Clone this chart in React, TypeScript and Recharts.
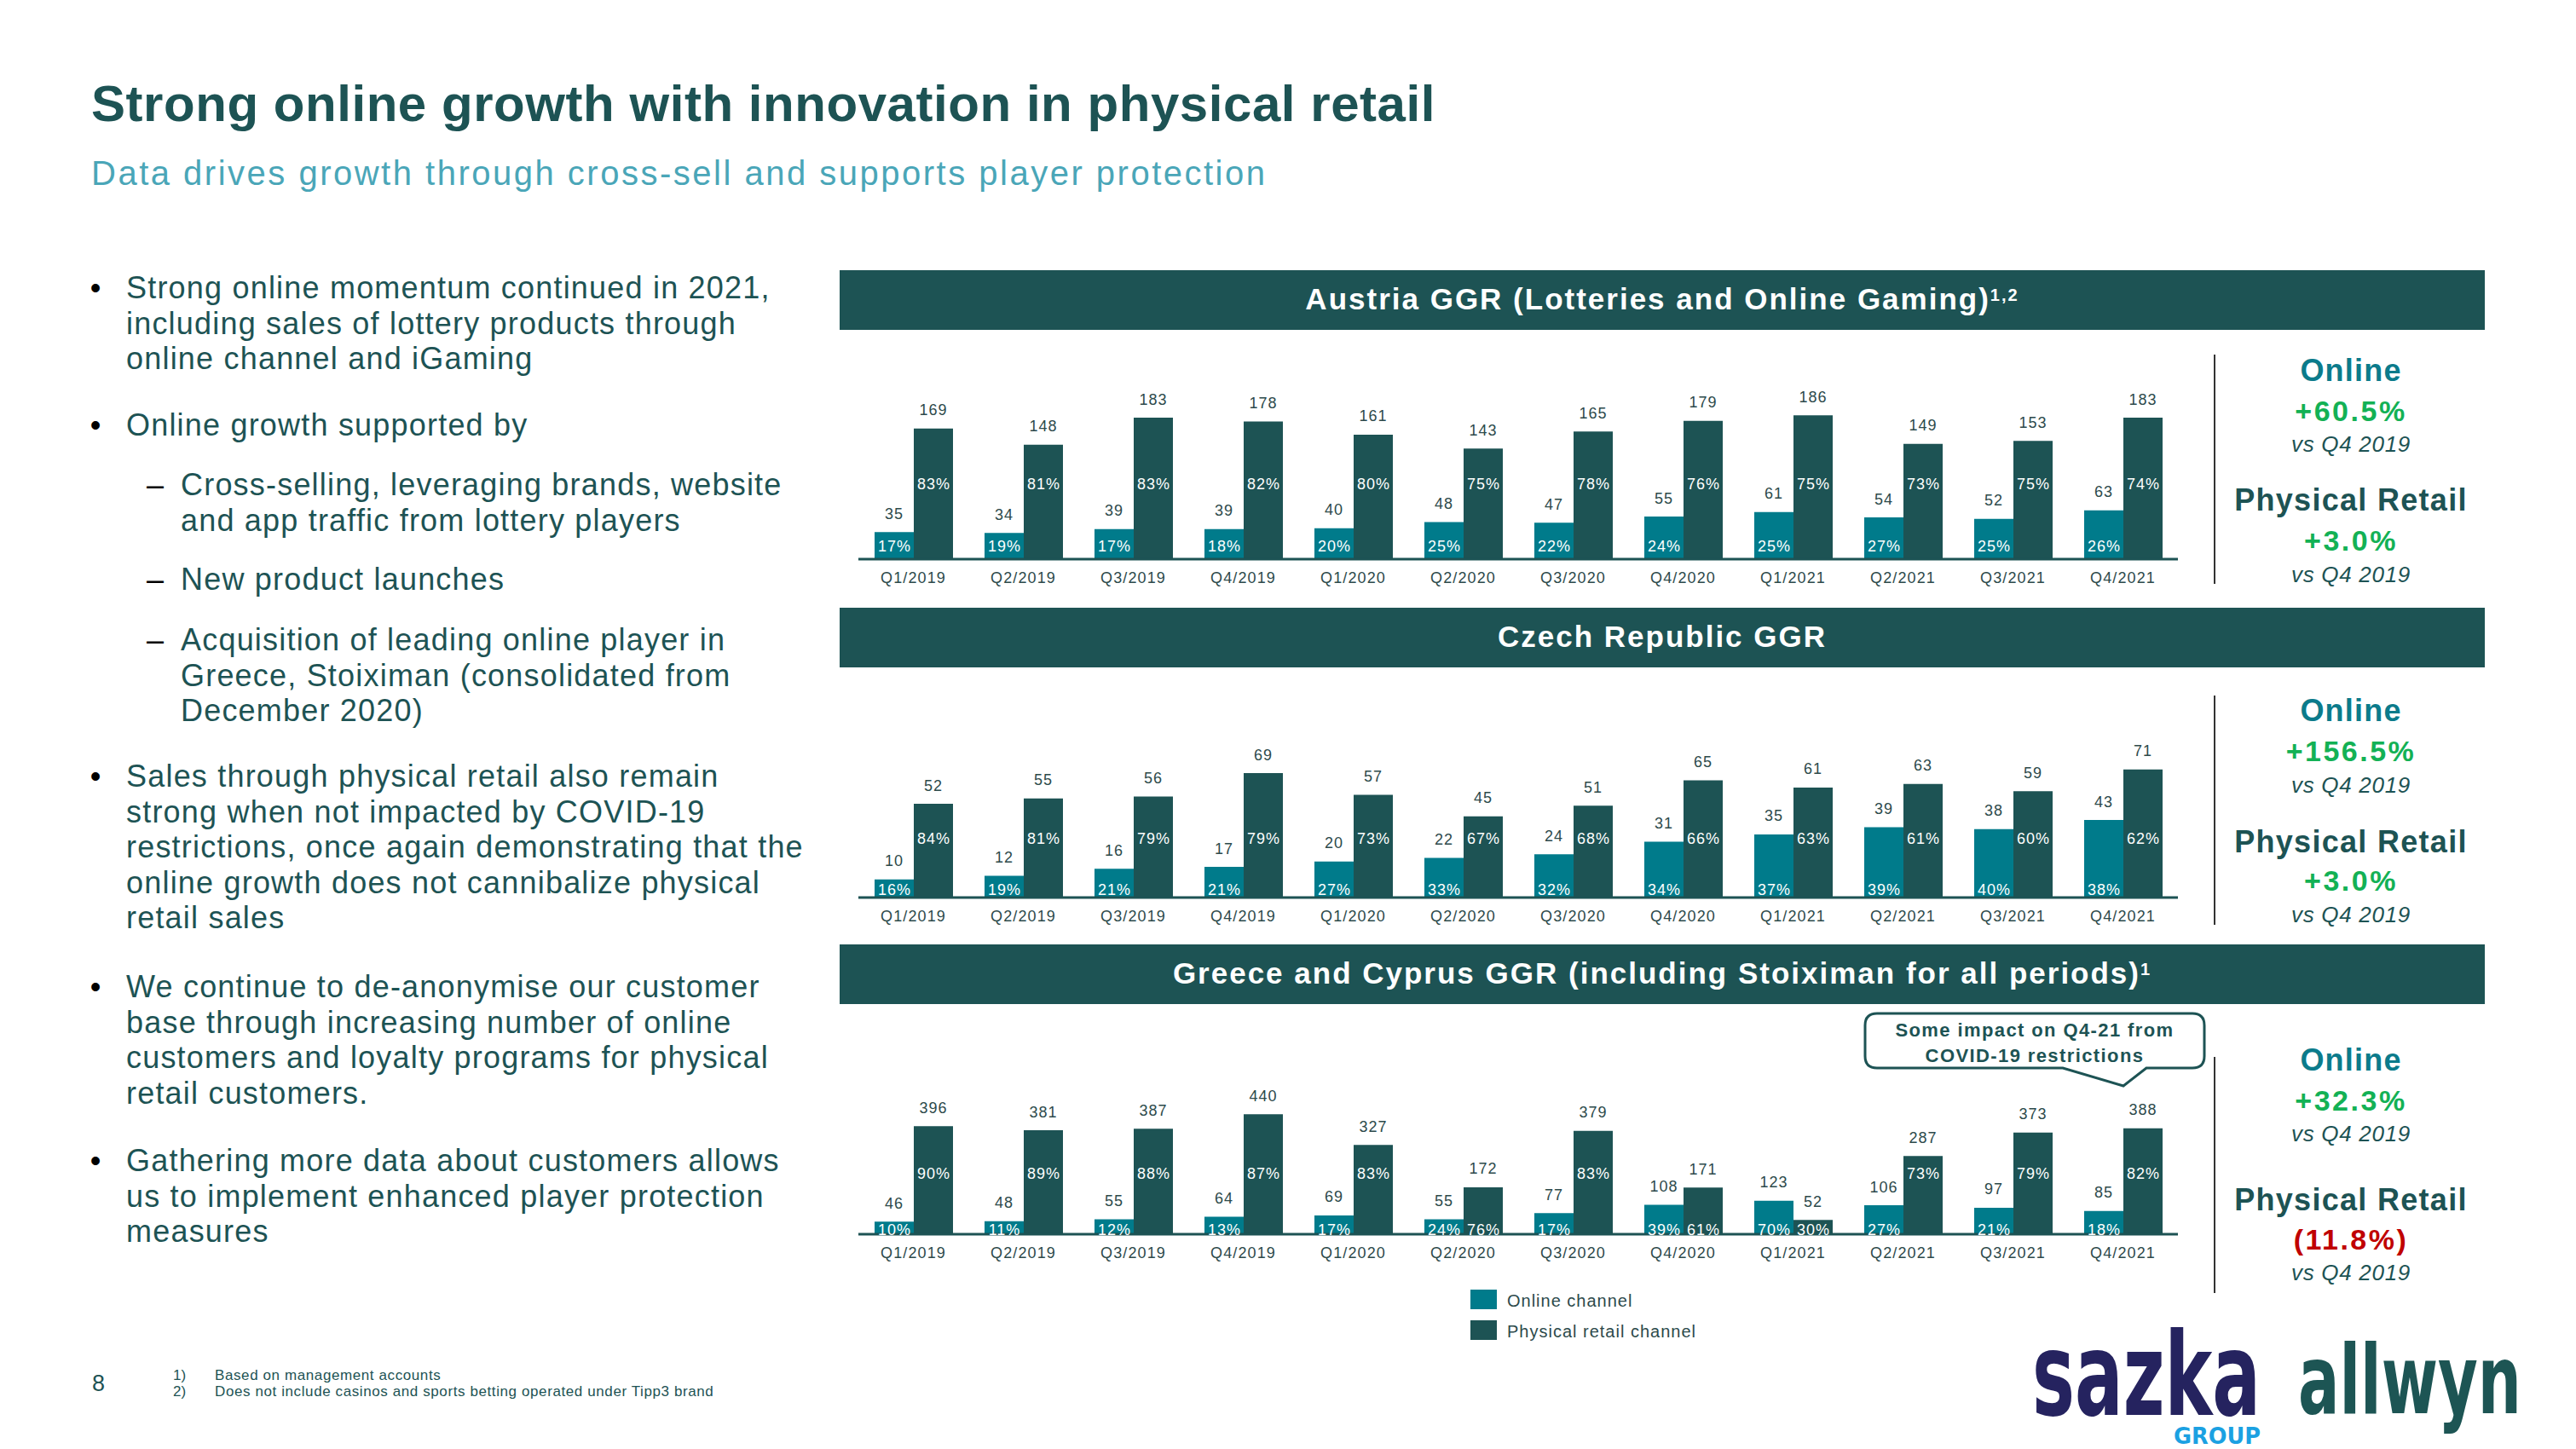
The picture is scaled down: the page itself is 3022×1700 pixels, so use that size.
import React from "react";
import { BarChart, Bar, XAxis, YAxis, LabelList } from "recharts";

const FONT = "'Liberation Sans', Arial, Helvetica, sans-serif";
const DARK = "#1d5354";
const ONLINE = "#007b8b";
const LABEL = "#2d4a4b";
const SUB = "#4aa6b8";
const GREEN = "#13b155";
const RED = "#c00000";
const ONLINE_TXT = "#0b7b8b";

// ---------- data ----------
const quarters = ["Q1/2019", "Q2/2019", "Q3/2019", "Q4/2019", "Q1/2020", "Q2/2020", "Q3/2020", "Q4/2020", "Q1/2021", "Q2/2021", "Q3/2021", "Q4/2021"];

const atOnline = [35, 34, 39, 39, 40, 48, 47, 55, 61, 54, 52, 63];
const atPhysical = [169, 148, 183, 178, 161, 143, 165, 179, 186, 149, 153, 183];
const atOnlinePct = [17, 19, 17, 18, 20, 25, 22, 24, 25, 27, 25, 26];
const atPhysicalPct = [83, 81, 83, 82, 80, 75, 78, 76, 75, 73, 75, 74];

const czOnline = [10, 12, 16, 17, 20, 22, 24, 31, 35, 39, 38, 43];
const czPhysical = [52, 55, 56, 69, 57, 45, 51, 65, 61, 63, 59, 71];
const czOnlinePct = [16, 19, 21, 21, 27, 33, 32, 34, 37, 39, 40, 38];
const czPhysicalPct = [84, 81, 79, 79, 73, 67, 68, 66, 63, 61, 60, 62];

const grOnline = [46, 48, 55, 64, 69, 55, 77, 108, 123, 106, 97, 85];
const grPhysical = [396, 381, 387, 440, 327, 172, 379, 171, 52, 287, 373, 388];
const grOnlinePct = [10, 11, 12, 13, 17, 24, 17, 39, 70, 27, 21, 18];
const grPhysicalPct = [90, 89, 88, 87, 83, 76, 83, 61, 30, 73, 79, 82];

const seriesNames = ["Online channel", "Physical retail channel"];

type Row = { q: string; online: number; physical: number; onlinePct: number; physicalPct: number };
const buildRows = (on: number[], ph: number[], onP: number[], phP: number[]): Row[] =>
  quarters.map((q, i) => ({ q, online: on[i], physical: ph[i], onlinePct: onP[i], physicalPct: phP[i] }));

const CHART_W = 1600;
const CHART_H = 330;
const PLOT_BOTTOM = 271;

const panels = [
  {
    title: "Austria GGR (Lotteries and Online Gaming)", sup: "1,2",
    rows: buildRows(atOnline, atPhysical, atOnlinePct, atPhysicalPct),
    baseline: 656, max: 280, scale: 0.907, onRow: 16, phRow: 89, headerY: 317,
    divider: [416, 685], online: "+60.5%", retail: "+3.0%", retailColor: GREEN,
    ys: [447, 494, 530.3, 599, 646, 683.3],
  },
  {
    title: "Czech Republic GGR", sup: "",
    rows: buildRows(czOnline, czPhysical, czOnlinePct, czPhysicalPct),
    baseline: 1053, max: 120, scale: 2.115, onRow: 10, phRow: 70, headerY: 713,
    divider: [816, 1085], online: "+156.5%", retail: "+3.0%", retailColor: GREEN,
    ys: [846, 893, 930.3, 1000, 1045, 1082.3],
  },
  {
    title: "Greece and Cyprus GGR (including Stoiximan for all periods)", sup: "1",
    rows: buildRows(grOnline, grPhysical, grOnlinePct, grPhysicalPct),
    baseline: 1448, max: 800, scale: 0.32, onRow: 6, phRow: 72, headerY: 1108,
    divider: [1240, 1517], online: "+32.3%", retail: "(11.8%)", retailColor: RED,
    ys: [1256, 1303, 1339.3, 1420, 1466, 1502.3],
  },
];

const bullets = [
  { kind: "b", y: 350, lines: ["Strong online momentum continued in 2021,", "including sales of lottery products through", "online channel and iGaming"] },
  { kind: "b", y: 511, lines: ["Online growth supported by"] },
  { kind: "s", y: 581, lines: ["Cross-selling, leveraging brands, website", "and app traffic from lottery players"] },
  { kind: "s", y: 692, lines: ["New product launches"] },
  { kind: "s", y: 763, lines: ["Acquisition of leading online player in", "Greece, Stoiximan (consolidated from", "December 2020)"] },
  { kind: "b", y: 923, lines: ["Sales through physical retail also remain", "strong when not impacted by COVID-19", "restrictions, once again demonstrating that the", "online growth does not cannibalize physical", "retail sales"] },
  { kind: "b", y: 1170, lines: ["We continue to de-anonymise our customer", "base through increasing number of online", "customers and loyalty programs for physical", "retail customers."] },
  { kind: "b", y: 1374, lines: ["Gathering more data about customers allows", "us to implement enhanced player protection", "measures"] },
];

// ---------- label renderers ----------
const getBox = (props: any) => {
  const vb = props.viewBox || props;
  let x = Number(vb.x ?? props.x);
  let y = Number(vb.y ?? props.y);
  const width = Number(vb.width ?? props.width);
  let height = Number(vb.height ?? props.height);
  if (height < 0) { y += height; height = -height; }
  return { x, y, width, height };
};

const valueLabel = (props: any) => {
  const { x, y, width } = getBox(props);
  return (
    <text x={x + width / 2} y={y - 22 + 6.5} textAnchor="middle" fontSize={18} fill={LABEL} fontFamily={FONT} style={{ letterSpacing: 1 }}>
      {props.value}
    </text>
  );
};

const pctLabel = (row: number, lowRow: number) => (props: any) => {
  const { x, y, width, height } = getBox(props);
  const base = y + height;
  const cy = height < row + 14 ? base - lowRow : base - row;
  return (
    <text x={x + width / 2 + 0.5} y={cy + 6.5} textAnchor="middle" fontSize={18} fill="#ffffff" fontFamily={FONT} style={{ letterSpacing: 1 }}>
      {props.value}%
    </text>
  );
};

const QTick = (props: any) => {
  const { x, y, payload } = props;
  return (
    <text x={x} y={y + 21.5 + 6.5} textAnchor="middle" fontSize={18} fill={LABEL} fontFamily={FONT} style={{ letterSpacing: 1.1 }}>
      {payload.value}
    </text>
  );
};

function Panel({ p }: { p: any }) {
  const top = p.baseline - PLOT_BOTTOM;
  const mt = PLOT_BOTTOM - p.max * p.scale;
  return (
    <div style={{ position: "absolute", left: 980, top, width: CHART_W, height: CHART_H }}>
      <BarChart width={CHART_W} height={CHART_H} data={p.rows} margin={{ top: mt, right: 25, left: 27, bottom: 19 }} barGap={0}>
        <XAxis
          dataKey="q"
          interval={0}
          tickLine={false}
          tickSize={0}
          tickMargin={0}
          height={40}
          axisLine={{ stroke: DARK, strokeWidth: 3 }}
          tick={(tp: any) => <QTick {...tp} />}
        />
        <YAxis hide type="number" domain={[0, p.max]} allowDataOverflow />
        <Bar dataKey="online" name={seriesNames[0]} fill={ONLINE} barSize={46} isAnimationActive={false}>
          <LabelList dataKey="online" content={valueLabel} />
          <LabelList dataKey="onlinePct" content={pctLabel(p.onRow, p.onRow)} />
        </Bar>
        <Bar dataKey="physical" name={seriesNames[1]} fill={DARK} barSize={46} isAnimationActive={false}>
          <LabelList dataKey="physical" content={valueLabel} />
          <LabelList dataKey="physicalPct" content={pctLabel(p.phRow, p.onRow)} />
        </Bar>
      </BarChart>
    </div>
  );
}

export default function App() {
  const LH = 41.5;
  return (
    <div style={{ position: "absolute", left: 0, top: 0, width: 3022, height: 1700, background: "#ffffff", overflow: "hidden", fontFamily: FONT }}>
      {panels.map((p, i) => (
        <Panel key={i} p={p} />
      ))}
      <svg width={3022} height={1700} style={{ position: "absolute", left: 0, top: 0, pointerEvents: "none" }} fontFamily={FONT}>
        {/* title */}
        <text x={107} y={142} fontSize={60} fontWeight={700} fill={DARK} style={{ letterSpacing: 0.55 }}>
          Strong online growth with innovation in physical retail
        </text>
        <text x={107} y={217} fontSize={40} fill={SUB} style={{ letterSpacing: 2.5 }}>
          Data drives growth through cross-sell and supports player protection
        </text>

        {/* bullets */}
        {bullets.map((b, bi) => (
          <g key={bi}>
            {b.kind === "b" ? (
              <text x={112} y={b.y} fontSize={36} fill="#000" textAnchor="middle">•</text>
            ) : (
              <text x={172} y={b.y} fontSize={36} fill="#000">–</text>
            )}
            {b.lines.map((ln, li) => (
              <text key={li} x={b.kind === "b" ? 148 : 212} y={b.y + li * LH} fontSize={36} fill={DARK} style={{ letterSpacing: 1.2 }}>
                {ln}
              </text>
            ))}
          </g>
        ))}

        {/* headers + stats */}
        {panels.map((p, i) => (
          <g key={i}>
            <rect x={985} y={p.headerY} width={1930} height={70} fill={DARK} />
            <text x={1950} y={p.headerY + 35 + 11} textAnchor="middle" fontSize={35} fontWeight={700} fill="#fff" style={{ letterSpacing: 2 }}>
              {p.title}
              {p.sup ? (
                <tspan dy={-10} fontSize={20}>{p.sup}</tspan>
              ) : null}
            </text>
            <line x1={2598} x2={2598} y1={p.divider[0]} y2={p.divider[1]} stroke="#333" strokeWidth={2} />
            <text x={2758} y={p.ys[0]} textAnchor="middle" fontSize={36} fontWeight={700} fill={ONLINE_TXT} style={{ letterSpacing: 1.2 }}>Online</text>
            <text x={2758} y={p.ys[1]} textAnchor="middle" fontSize={34} fontWeight={700} fill={GREEN} style={{ letterSpacing: 2.5 }}>{p.online}</text>
            <text x={2758} y={p.ys[2]} textAnchor="middle" fontSize={26} fontStyle="italic" fill={DARK} style={{ letterSpacing: 0.7 }}>vs Q4 2019</text>
            <text x={2758} y={p.ys[3]} textAnchor="middle" fontSize={36} fontWeight={700} fill={DARK} style={{ letterSpacing: 1.3 }}>Physical Retail</text>
            <text x={2758} y={p.ys[4]} textAnchor="middle" fontSize={34} fontWeight={700} fill={p.retailColor} style={{ letterSpacing: 2.5 }}>{p.retail}</text>
            <text x={2758} y={p.ys[5]} textAnchor="middle" fontSize={26} fontStyle="italic" fill={DARK} style={{ letterSpacing: 0.7 }}>vs Q4 2019</text>
          </g>
        ))}

        {/* annotation callout */}
        <path
          d="M 2202 1189 H 2572 Q 2586 1189 2586 1203 V 1239 Q 2586 1253 2572 1253 H 2518 L 2491 1274 L 2420 1253 H 2202 Q 2188 1253 2188 1239 V 1203 Q 2188 1189 2202 1189 Z"
          fill="#fff"
          stroke={DARK}
          strokeWidth={3}
        />
        <text x={2387} y={1216} textAnchor="middle" fontSize={22} fontWeight={700} fill={DARK} style={{ letterSpacing: 1.4 }}>Some impact on Q4-21 from</text>
        <text x={2387} y={1246} textAnchor="middle" fontSize={22} fontWeight={700} fill={DARK} style={{ letterSpacing: 1.4 }}>COVID-19 restrictions</text>

        {/* legend */}
        <rect x={1725} y={1513} width={31} height={23} fill={ONLINE} />
        <text x={1768} y={1533} fontSize={20} fill={LABEL} style={{ letterSpacing: 1 }}>{seriesNames[0]}</text>
        <rect x={1725} y={1549} width={31} height={23} fill={DARK} />
        <text x={1768} y={1569} fontSize={20} fill={LABEL} style={{ letterSpacing: 1 }}>{seriesNames[1]}</text>

        {/* footer */}
        <text x={108} y={1632} fontSize={27} fill={DARK}>8</text>
        <text x={203} y={1619} fontSize={17} fill={DARK}>1)</text>
        <text x={252} y={1619} fontSize={17} fill={DARK} style={{ letterSpacing: 0.6 }}>Based on management accounts</text>
        <text x={203} y={1638} fontSize={17} fill={DARK}>2)</text>
        <text x={252} y={1638} fontSize={17} fill={DARK} style={{ letterSpacing: 0.6 }}>Does not include casinos and sports betting operated under Tipp3 brand</text>

        {/* logos */}
        <g transform="translate(2384,1660) scale(1,1.62)">
          <text x={0} y={0} fontSize={84} fontWeight={900} fill="#25235f" fontFamily="'DejaVu Sans', sans-serif" textLength={268} lengthAdjust="spacingAndGlyphs">sazka</text>
        </g>
        <g transform="translate(2550,1694) scale(1,1.07)">
          <text x={0} y={0} fontSize={25.6} fontWeight={900} fill="#1ba1e2" fontFamily="'DejaVu Sans', sans-serif" textLength={102} lengthAdjust="spacingAndGlyphs">GROUP</text>
        </g>
        <g transform="translate(2696,1658) scale(1,1.57)">
          <text x={0} y={0} fontSize={72} fontWeight={800} fill="#1d5554" fontFamily="'DejaVu Sans', sans-serif" textLength={262} lengthAdjust="spacingAndGlyphs">allwyn</text>
        </g>
      </svg>
    </div>
  );
}
